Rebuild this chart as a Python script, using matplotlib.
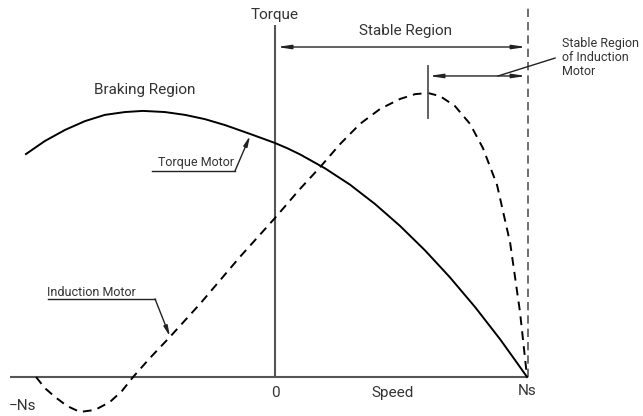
import matplotlib
matplotlib.use("Agg")
import matplotlib.pyplot as plt

# speed in % of Ns, torque in arbitrary units
tm_speed = [-98.8, -91.3, -83.3, -75.4, -67.5, -59.5, -52.4, -43.7, -35.7, -27.8, -19.8, -9.9,
            0, 5.0, 9.9, 19.8, 29.8, 39.7, 49.6, 59.5, 69.4, 79.4, 89.3, 95.2, 100]
tm_torque = [78.5, 83.1, 87.0, 90.1, 92.3, 93.3, 93.7, 93.3, 92.3, 90.8, 88.7, 85.6,
             82.4, 80.5, 78.4, 73.5, 67.7, 60.9, 53.2, 44.6, 35.1, 24.6, 13.3, 6.0, 0]

im_speed = [-94.8, -91.3, -87.3, -82.5, -77.4, -71.4, -65.5, -60.7, -56.3, -49.6, -41.7, -29.8,
            -13.9, 0, 9.9, 17.9, 25.8, 33.7, 41.7, 49.6, 55.6, 60.7, 65.5, 71.4, 77.4, 82.5,
            88.1, 93.3, 97.2, 100]
im_torque = [0, -3.9, -7.0, -10.2, -12.3, -11.6, -8.8, -4.9, 0, 6.7, 14.1, 25.7,
             42.3, 56.0, 66.2, 73.9, 82.0, 89.1, 94.4, 97.9, 99.6, 100.0, 98.9, 95.4, 89.1, 80.6,
             67.6, 47.2, 22.9, 0]

ns = 100
neg_ns = -94.8
peak_speed = 60.7

txt = '#333333'
axc = '#555555'
fam = ['Roboto', 'DejaVu Sans']
big = dict(family=fam, fontsize=11, color=txt)
small = dict(family=fam, fontsize=9, color=txt)

fig = plt.figure(figsize=(6.43, 4.16), dpi=100)
ax = fig.add_axes([0, 0, 1, 1])
ax.set_xlim(-109.1, 146.0)
ax.set_ylim(-13.73, 132.75)
ax.axis('off')

# axes
ax.plot([-105.2, ns], [0, 0], color=axc, lw=1.5, solid_capstyle='butt')
ax.plot([0, 0], [0, 124], color=axc, lw=1.5, solid_capstyle='butt')
ax.plot([ns + 0.4, ns + 0.4], [0, 130], color=axc, lw=1.2, ls=(0, (5, 3)))

# curves
ax.plot(tm_speed, tm_torque, color='black', lw=1.4)
ax.plot(im_speed, im_torque, color='black', lw=1.4, ls=(0, (4.5, 3.2)))

# labels
ax.text(0, 127.5, 'Torque', ha='center', va='center', **big)
ax.text(0, -5.8, '0', ha='center', va='center', **big)
ax.text(ns, -4.8, 'Ns', ha='center', va='center', **big)
ax.text(neg_ns - 5.5, -10.2, '−Ns', ha='center', va='center', **big)
ax.text(46.8, -5.5, 'Speed', ha='center', va='center', **big)
ax.text(51.6, 122.0, 'Stable Region', ha='center', va='center', **big)
ax.text(-51.6, 101.0, 'Braking Region', ha='center', va='center', **big)

# stable region arrows
ar = dict(arrowstyle='<|-|>,head_length=0.8,head_width=0.12', color='#222222', lw=1.0,
          shrinkA=0, shrinkB=0)
ax.annotate('', xy=(0.8, 116.2), xytext=(ns - 0.4, 116.2), arrowprops=ar)
ax.plot([peak_speed, peak_speed], [91.2, 109.5], color=axc, lw=1.3)
ax.annotate('', xy=(peak_speed + 0.4, 106.0), xytext=(ns - 0.4, 106.0), arrowprops=ar)
ax.plot([88.5, 111.1], [106.0, 112.3], color='#222222', lw=1.0)
ax.text(113.9, 119.8, 'Stable Region\nof Induction\nMotor', ha='left', va='top',
        linespacing=1.1, **small)

# curve labels with leaders
lead = dict(arrowstyle='-|>,head_length=0.6,head_width=0.12', color='#222222', lw=1.0,
            shrinkA=0, shrinkB=0)
ax.text(-31.5, 75.6, 'Torque Motor', ha='center', va='center', **small)
ax.plot([-48.8, -15.9], [72.5, 72.5], color='#222222', lw=1.0)
ax.annotate('', xy=(-9.9, 84.9), xytext=(-15.9, 72.5), arrowprops=lead)
ax.text(-72.8, 29.8, 'Induction Motor', ha='center', va='center', **small)
ax.plot([-90.1, -47.6], [27.5, 27.5], color='#222222', lw=1.0)
ax.annotate('', xy=(-41.7, 14.3), xytext=(-47.6, 27.5), arrowprops=lead)

fig.savefig('out.png', dpi=100)
